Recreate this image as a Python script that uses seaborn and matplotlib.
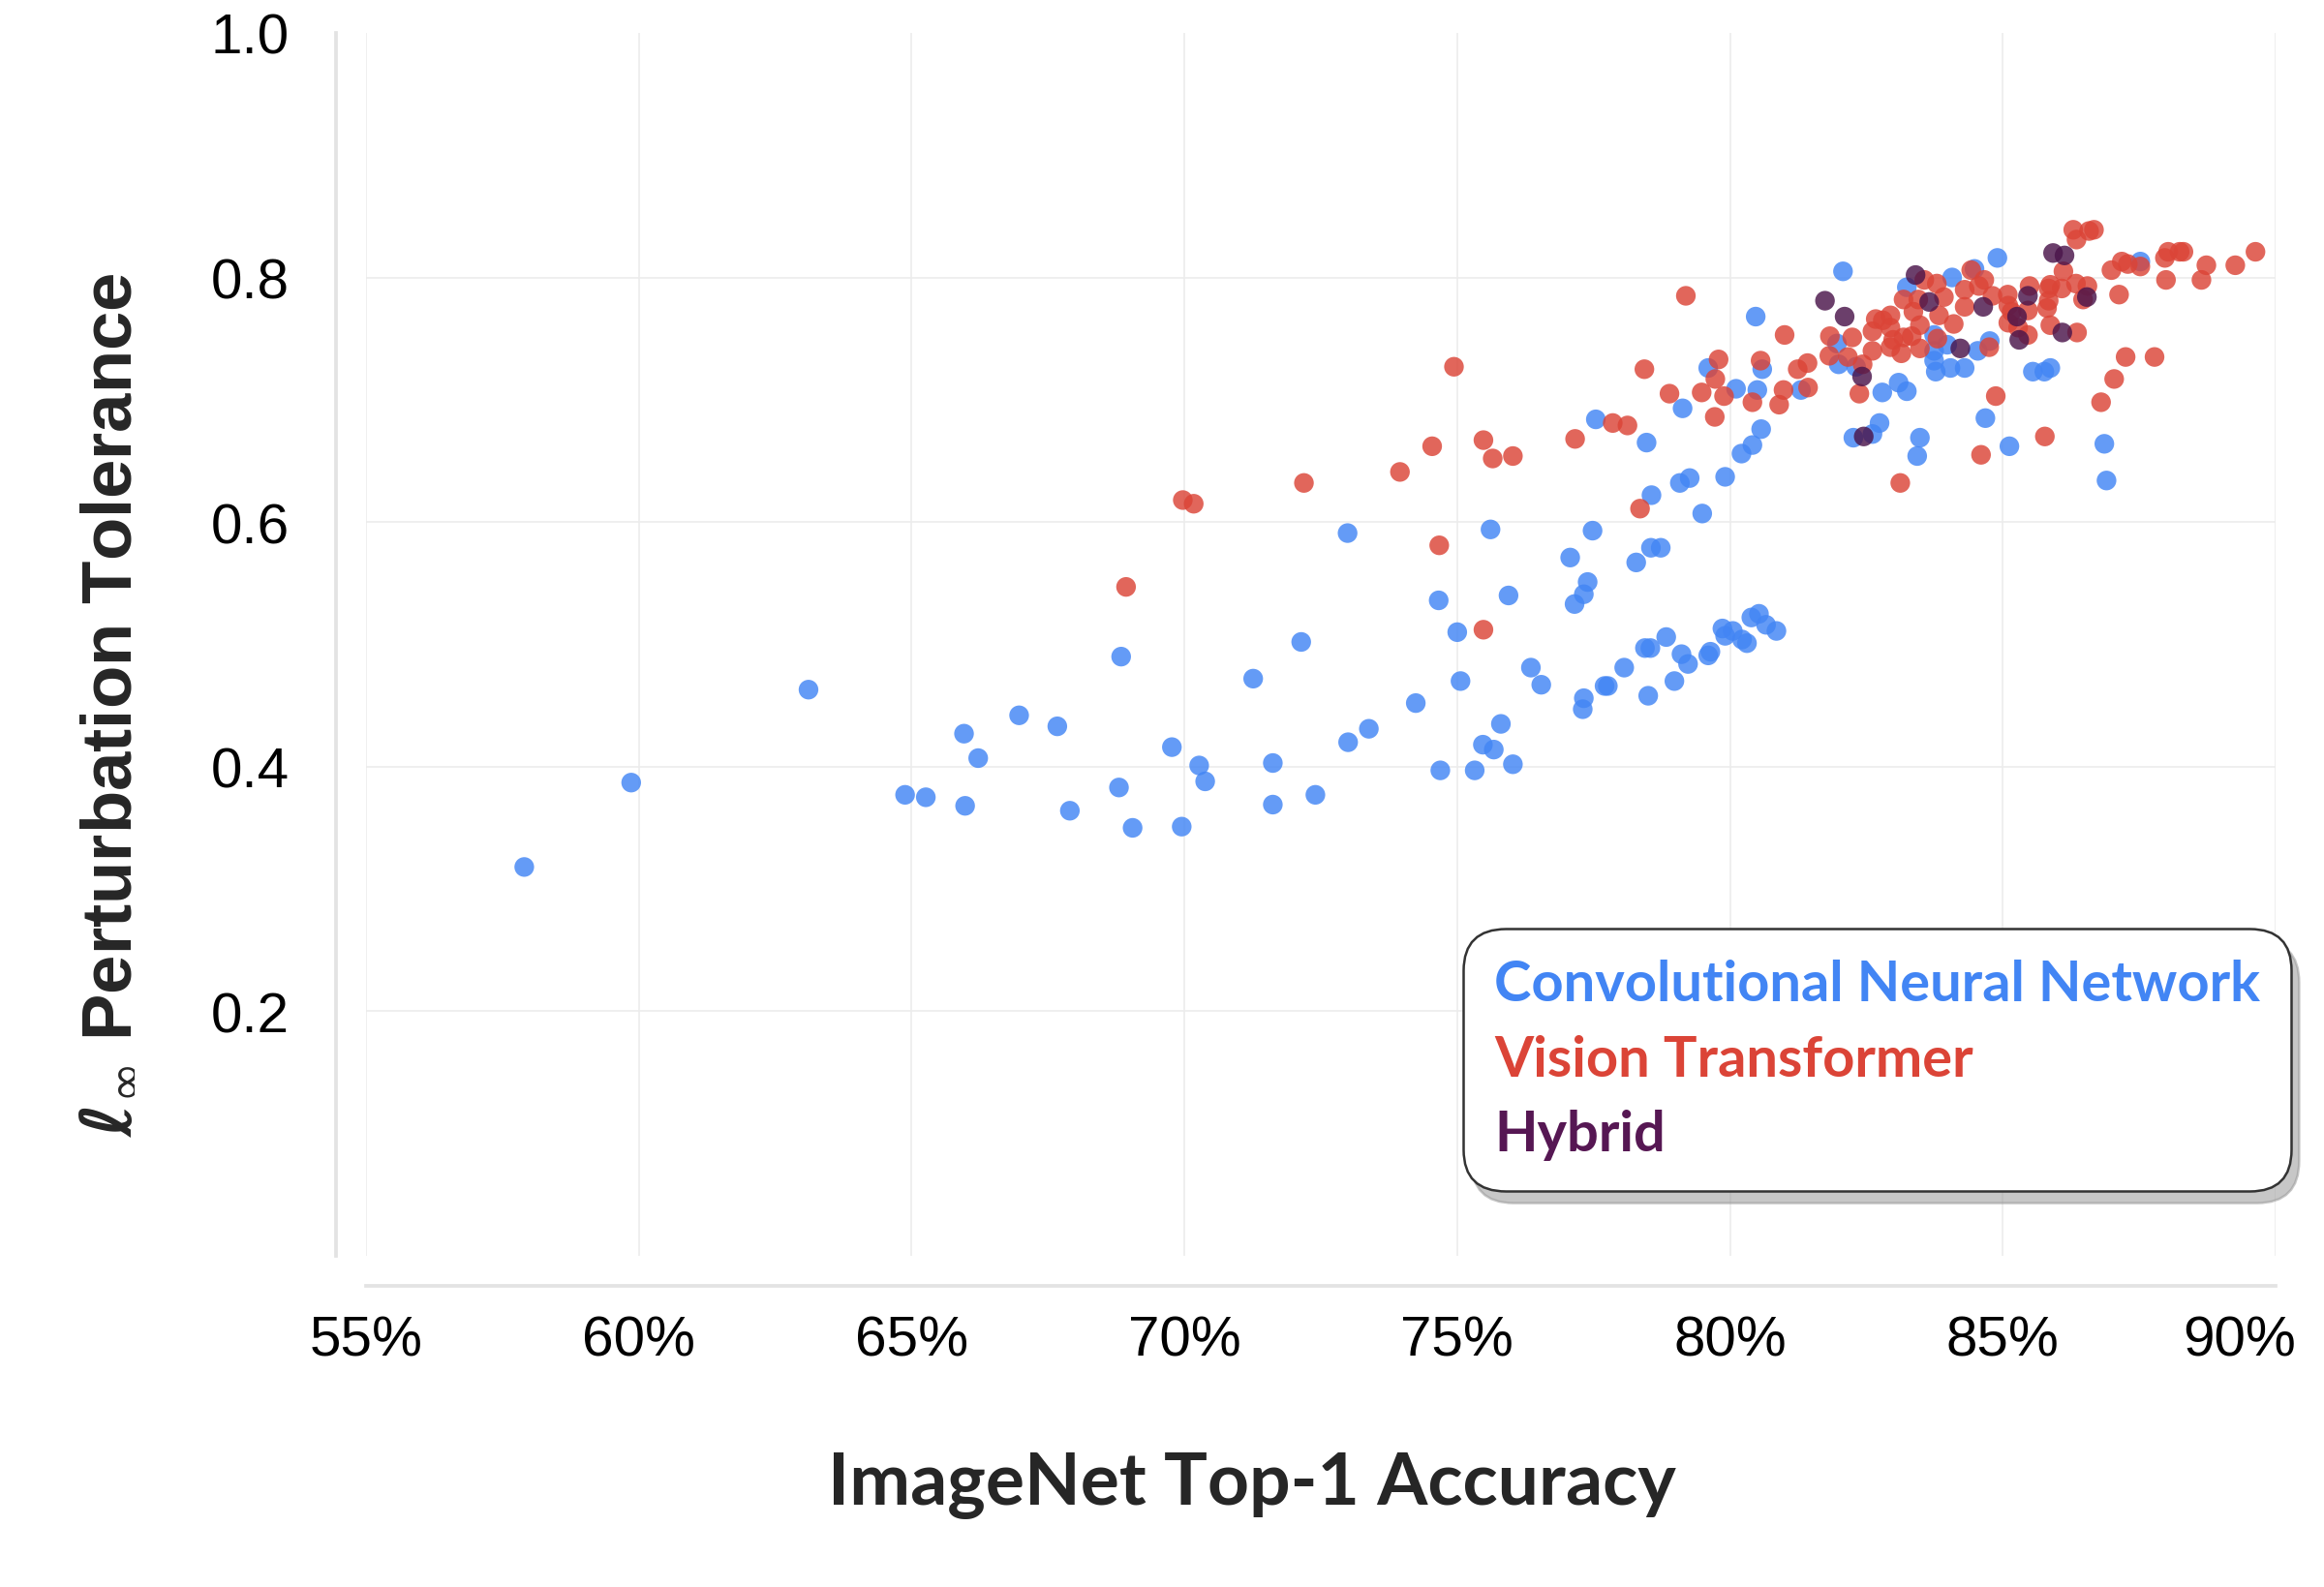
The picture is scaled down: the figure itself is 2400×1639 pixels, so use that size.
import matplotlib
matplotlib.use('Agg')
import matplotlib.pyplot as plt
import matplotlib.transforms as mtransforms
from matplotlib.lines import Line2D
import pandas as pd
import seaborn as sns

# Data (accuracy in %, tolerance)
cnn_acc = [57.9, 59.86, 63.11, 64.88, 65.26, 65.96, 66.22, 65.98, 66.97, 67.67,
           67.9, 68.80, 68.84, 69.05, 69.77, 69.95, 70.27, 70.38, 71.26, 71.62,
           71.62, 72.14, 72.40, 72.99, 73.0, 73.38, 74.24, 74.66, 74.69, 75.0,
           75.06, 75.32, 75.47, 75.61, 75.67, 75.80, 75.94, 76.02, 76.35, 76.54,
           77.07, 77.15, 77.30, 77.32, 77.32, 77.39, 77.48, 77.54, 77.70, 77.76,
           78.06, 78.28, 78.47, 78.44, 78.50, 78.54, 78.55, 78.56, 78.73, 78.83,
           78.98, 79.08, 79.11, 79.13, 79.23, 79.26, 79.49, 79.6, 79.6, 79.64,
           79.86, 79.91, 79.91, 80.05, 80.11, 80.21, 80.22, 80.31, 80.39, 80.41,
           80.47, 80.50, 80.53, 80.57, 80.59, 80.66, 80.85, 81.30, 81.96, 81.99,
           82.07, 82.26, 82.31, 82.61, 82.74, 82.79, 83.09, 83.24, 83.24, 83.43,
           83.48, 83.74, 83.74, 83.74, 83.77, 83.98, 84.04, 84.07, 84.30, 84.48,
           84.54, 84.68, 84.76, 84.90, 85.12, 85.55, 85.76, 85.87, 86.86, 86.90,
           87.52]
cnn_tol = [0.318, 0.387, 0.463, 0.377, 0.375, 0.427, 0.407, 0.368, 0.442, 0.433,
           0.364, 0.383, 0.490, 0.350, 0.416, 0.351, 0.401, 0.388, 0.472, 0.403,
           0.369, 0.502, 0.377, 0.591, 0.420, 0.431, 0.452, 0.536, 0.397, 0.510,
           0.470, 0.397, 0.418, 0.594, 0.414, 0.435, 0.540, 0.402, 0.481, 0.467,
           0.571, 0.533, 0.447, 0.456, 0.541, 0.551, 0.593, 0.684, 0.466, 0.466,
           0.481, 0.567, 0.665, 0.497, 0.458, 0.497, 0.579, 0.622, 0.579, 0.506,
           0.470, 0.632, 0.492, 0.693, 0.484, 0.636, 0.607, 0.726, 0.491, 0.494,
           0.513, 0.507, 0.637, 0.511, 0.709, 0.656, 0.504, 0.501, 0.522, 0.663,
           0.768, 0.708, 0.525, 0.676, 0.725, 0.516, 0.511, 0.708, 0.746, 0.729,
           0.805, 0.669, 0.727, 0.672, 0.681, 0.706, 0.714, 0.707, 0.792, 0.654,
           0.669, 0.753, 0.740, 0.732, 0.723, 0.745, 0.726, 0.800, 0.726, 0.807,
           0.740, 0.685, 0.748, 0.816, 0.662, 0.723, 0.723, 0.726, 0.664, 0.634,
           0.813]

vit_acc = [68.93, 69.97, 70.17, 72.19, 73.95, 74.54, 74.67, 74.94, 75.48, 75.48,
           75.65, 76.02, 77.16, 77.85, 78.12, 78.35, 78.43, 78.89, 79.19, 79.48,
           79.72, 79.73, 79.79, 79.89, 80.41, 80.56, 80.90, 80.98, 81.0, 81.24,
           81.42, 81.43, 81.82, 81.83, 82.16, 82.24, 82.37, 82.43, 82.61, 82.61,
           82.67, 82.80, 82.94, 82.94, 82.99, 82.94, 83.12, 83.14, 83.18, 83.18,
           83.33, 83.36, 83.45, 83.48, 83.48, 83.56, 83.79, 83.80, 83.83, 83.92,
           84.10, 84.30, 84.30, 84.42, 84.56, 84.6, 84.66, 84.75, 84.81, 84.87,
           85.09, 85.10, 85.10, 85.16, 85.28, 85.46, 85.46, 85.49, 85.77, 85.81,
           85.84, 85.84, 85.87, 85.87, 86.08, 86.11, 86.29, 86.34, 86.35, 86.36,
           86.47, 86.55, 86.58, 86.67, 86.80, 86.99, 87.04, 87.13, 87.18, 87.25,
           87.29, 87.52, 87.78, 87.97, 87.99, 88.03, 88.24, 88.31, 88.64, 88.73,
           89.26, 89.63]
vit_tol = [0.547, 0.618, 0.615, 0.632, 0.641, 0.662, 0.581, 0.727, 0.667, 0.512,
           0.652, 0.654, 0.668, 0.681, 0.679, 0.611, 0.725, 0.705, 0.785, 0.706,
           0.686, 0.717, 0.733, 0.703, 0.698, 0.732, 0.696, 0.708, 0.753, 0.725,
           0.730, 0.710, 0.736, 0.752, 0.735, 0.751, 0.705, 0.729, 0.740, 0.756,
           0.766, 0.765, 0.769, 0.759, 0.749, 0.743, 0.632, 0.738, 0.751, 0.782,
           0.752, 0.772, 0.782, 0.742, 0.761, 0.798, 0.795, 0.750, 0.769, 0.784,
           0.762, 0.790, 0.776, 0.806, 0.793, 0.655, 0.798, 0.743, 0.785, 0.703,
           0.786, 0.777, 0.763, 0.772, 0.759, 0.753, 0.773, 0.793, 0.670, 0.775,
           0.781, 0.791, 0.761, 0.794, 0.791, 0.805, 0.839, 0.795, 0.831, 0.755,
           0.782, 0.793, 0.838, 0.839, 0.698, 0.806, 0.717, 0.786, 0.813, 0.735,
           0.811, 0.809, 0.735, 0.816, 0.798, 0.821, 0.821, 0.821, 0.798, 0.810,
           0.810, 0.821]

hyb_acc = [81.74, 82.10, 82.42, 82.45, 83.40, 83.65, 84.22, 84.64, 85.26, 85.30,
           85.46, 85.92, 86.09, 86.13, 86.54]
hyb_tol = [0.781, 0.768, 0.719, 0.670, 0.802, 0.780, 0.742, 0.776, 0.768, 0.749,
           0.785, 0.820, 0.755, 0.818, 0.784]

labels = ['Convolutional Neural Network', 'Vision Transformer', 'Hybrid']
x_ticks = [55, 60, 65, 70, 75, 80, 85, 90]
y_ticks = [0.2, 0.4, 0.6, 0.8, 1.0]

df = pd.DataFrame({
    'acc': cnn_acc + vit_acc + hyb_acc,
    'tol': cnn_tol + vit_tol + hyb_tol,
    'family': [labels[0]] * len(cnn_acc) + [labels[1]] * len(vit_acc) + [labels[2]] * len(hyb_acc),
})

marker_colors = {labels[0]: '#4285F4', labels[1]: '#DB4437', labels[2]: '#4A154B'}
text_colors = ['#4285F4', '#DB4437', '#561753']

sns.set_theme(style='whitegrid')
plt.rcParams['font.family'] = ['Liberation Sans', 'DejaVu Sans']
plt.rcParams['mathtext.fontset'] = 'custom'
plt.rcParams['mathtext.it'] = 'DejaVu Sans:italic:bold'
plt.rcParams['mathtext.rm'] = 'DejaVu Sans'

fig = plt.figure(figsize=(16, 10.9333), dpi=150)
ax = fig.add_axes([0.1575, 0.2085, 0.8217, 0.7702])

sns.scatterplot(data=df, x='acc', y='tol', hue='family', palette=marker_colors,
                s=95, alpha=0.82, linewidth=0, legend=False, ax=ax)

sns.despine(ax=ax, offset=15)
for side in ['left', 'bottom']:
    ax.spines[side].set_color('#e3e3e3')
    ax.spines[side].set_linewidth(1.8)

ax.set_xlim(55, 90)
ax.set_ylim(0, 1.0)
ax.set_xticks(x_ticks)
ax.set_xticklabels([f'{v}%' for v in x_ticks])
ax.set_yticks(y_ticks)
ax.set_yticklabels([f'{v:.1f}' for v in y_ticks])
ax.tick_params(axis='both', labelsize=28, length=0, colors='black')
ax.tick_params(axis='y', pad=23)
ax.tick_params(axis='x', pad=14)
ax.grid(True, color='#ececec', linewidth=0.8)
ax.yaxis.get_gridlines()[-1].set_visible(False)

# last x label sits a bit inside the right edge, as in the reference
last = ax.xaxis.get_major_ticks()[-1].label1
last.set_transform(last.get_transform() + mtransforms.ScaledTranslation(-18 / 72, 0, fig.dpi_scale_trans))

ax.set_xlabel('ImageNet Top-1 Accuracy', fontsize=36, fontweight='bold', family='Lato')
ax.xaxis.set_label_coords(0.464, -0.160)
ax.set_ylabel(r'$\ell_{\infty}$ Perturbation Tolerance', fontsize=34.8, fontweight='bold')
ax.yaxis.set_label_coords(-0.118, 0.452)

handles = [Line2D([], [], linestyle='none') for _ in labels]
leg = ax.legend(handles, labels, loc='lower right',
                bbox_to_anchor=(2366 / 2400, 1 - 1231 / 1640), bbox_transform=fig.transFigure,
                borderaxespad=0, handlelength=0, handletextpad=0, labelcolor=text_colors,
                prop={'family': 'Lato', 'weight': 'bold', 'size': 27.8},
                frameon=True, fancybox=True, framealpha=1, edgecolor='#333333',
                borderpad=0.55, labelspacing=0.42,
                shadow={'ox': 4, 'oy': -6, 'color': '#999999', 'alpha': 0.55})
leg.get_frame().set_boxstyle('round', pad=0, rounding_size=0.75)
leg.get_frame().set_linewidth(1.2)

fig.savefig('out.png', dpi=150)
